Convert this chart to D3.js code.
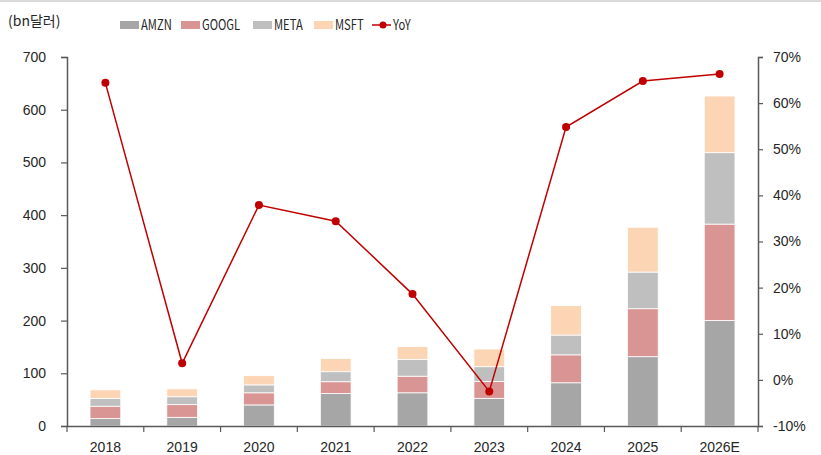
<!DOCTYPE html>
<html>
<head>
<meta charset="utf-8">
<script src="https://cdn.jsdelivr.net/npm/d3@7"></script>
<style>
  body { margin: 0; background: #fff; }
  svg { display: block; font-family: "Noto Sans CJK KR", "Noto Sans", sans-serif; }
</style>
</head>
<body>
<div id="chart"></div>
<script>
// capex by company, bn USD
const years = ["2018", "2019", "2020", "2021", "2022", "2023", "2024", "2025", "2026E"]
const amzn  = [14, 16.5, 40, 61.5, 63, 52.5, 82, 131.5, 200]
const googl = [23.5, 24, 23, 22.5, 31.5, 32, 53, 91, 183]
const meta  = [14.5, 15, 15, 19, 32, 28, 37.5, 69.5, 135.5]
const msft  = [16.5, 15, 17.5, 25, 24, 33.5, 56, 85, 107.5]
const yoy   = [64.4, 3.6, 37.9, 34.4, 18.6, -2.5, 54.8, 64.8, 66.3]

const seriesNames = ["AMZN", "GOOGL", "META", "MSFT"]
const seriesColors = ["#a6a6a6", "#d99594", "#bfbfbf", "#fcd5b5"]
const lineColor = "#c00000"

const W = 821, H = 455
const margin = { top: 57, right: 63, bottom: 29, left: 67 }
const width = W - margin.left - margin.right
const height = H - margin.top - margin.bottom

const svg = d3.select("#chart").append("svg")
  .attr("width", W)
  .attr("height", H)

// light rule across the top
svg.append("rect")
  .attr("x", 0).attr("y", 0)
  .attr("width", W).attr("height", 2)
  .attr("fill", "#d9d9d9")

const g = svg.append("g")
  .attr("transform", "translate(" + margin.left + "," + margin.top + ")")

const x = d3.scaleBand().domain(years).range([0, width]).paddingInner(0).paddingOuter(0)
const y = d3.scaleLinear().domain([0, 700]).range([height, 0])
const y2 = d3.scaleLinear().domain([-10, 70]).range([height, 0])

const table = years.map((yr, i) => ({
  year: yr, AMZN: amzn[i], GOOGL: googl[i], META: meta[i], MSFT: msft[i]
}))
const stacked = d3.stack().keys(seriesNames)(table)

const barW = x.bandwidth() * 0.4

g.selectAll(".layer")
  .data(stacked)
  .enter().append("g")
  .attr("class", "layer")
  .attr("fill", (d, i) => seriesColors[i])
  .selectAll("rect")
  .data(d => d)
  .enter().append("rect")
  .attr("x", d => x(d.data.year) + (x.bandwidth() - barW) / 2)
  .attr("y", d => y(d[1]))
  .attr("width", barW)
  .attr("height", d => y(d[0]) - y(d[1]))
  .attr("stroke", "#fff")
  .attr("stroke-width", 0.8)

// axes
const axisColor = "#595959"
const fontSize = "14px"
const textColor = "#262626"

const xAxis = g.append("g")
  .attr("transform", "translate(0," + height + ")")
  .call(d3.axisBottom(x).tickSize(0).tickPadding(16))
xAxis.select(".domain").attr("stroke", axisColor).attr("stroke-width", 1.5)
xAxis.selectAll("text").attr("font-size", fontSize).attr("fill", textColor).attr("font-family", null)
// boundary ticks between categories
const bounds = years.map(d => x(d)).concat([width])
xAxis.selectAll(".bound")
  .data(bounds)
  .enter().append("line")
  .attr("class", "bound")
  .attr("x1", d => d).attr("x2", d => d)
  .attr("y1", 0).attr("y2", 6)
  .attr("stroke", axisColor).attr("stroke-width", 1.2)

const yAxis = g.append("g")
  .call(d3.axisLeft(y).tickValues(d3.range(0, 701, 100)).tickSize(6).tickPadding(15))
yAxis.select(".domain").attr("stroke", axisColor).attr("stroke-width", 1.5)
yAxis.selectAll(".tick line").attr("stroke", axisColor).attr("stroke-width", 1.2)
yAxis.selectAll("text").attr("font-size", fontSize).attr("fill", textColor).attr("font-family", null)

const y2Axis = g.append("g")
  .attr("transform", "translate(" + width + ",0)")
  .call(d3.axisRight(y2).tickValues(d3.range(-10, 71, 10)).tickSize(5).tickPadding(10)
    .tickFormat(d => d + "%"))
y2Axis.select(".domain").attr("stroke", axisColor).attr("stroke-width", 1.5)
y2Axis.selectAll(".tick line").attr("stroke", axisColor).attr("stroke-width", 1.2)
y2Axis.selectAll("text").attr("font-size", fontSize).attr("fill", textColor).attr("font-family", null)

// yoy line
const line = d3.line()
  .x((d, i) => x(years[i]) + x.bandwidth() / 2)
  .y(d => y2(d))

g.append("path")
  .datum(yoy)
  .attr("fill", "none")
  .attr("stroke", lineColor)
  .attr("stroke-width", 1.5)
  .attr("d", line)

g.selectAll(".dot")
  .data(yoy)
  .enter().append("circle")
  .attr("class", "dot")
  .attr("cx", (d, i) => x(years[i]) + x.bandwidth() / 2)
  .attr("cy", d => y2(d))
  .attr("r", 4)
  .attr("fill", lineColor)

// unit label
svg.append("text")
  .attr("x", 8).attr("y", 26)
  .attr("font-size", fontSize)
  .attr("fill", textColor)
  .text("(bn달러)")

// legend (source uses a narrow face, squeeze the text a bit)
const legend = svg.append("g").attr("transform", "translate(0,30)")
const legendX = [120, 181, 253, 314]
function legendText(xPos, label) {
  const t = legend.append("text")
    .attr("x", xPos).attr("y", 0)
    .attr("font-size", fontSize)
    .attr("fill", textColor)
    .text(label)
  const w = t.node().getComputedTextLength()
  t.attr("textLength", w * 0.8).attr("lengthAdjust", "spacingAndGlyphs")
}
seriesNames.forEach((name, i) => {
  legend.append("rect")
    .attr("x", legendX[i]).attr("y", -9)
    .attr("width", 19).attr("height", 8)
    .attr("fill", seriesColors[i])
  legendText(legendX[i] + 21, name)
})
legend.append("line")
  .attr("x1", 372).attr("x2", 391).attr("y1", -5).attr("y2", -5)
  .attr("stroke", lineColor).attr("stroke-width", 1.5)
legend.append("circle")
  .attr("cx", 383).attr("cy", -5).attr("r", 3.5)
  .attr("fill", lineColor)
legendText(393, "YoY")
</script>
</body>
</html>
